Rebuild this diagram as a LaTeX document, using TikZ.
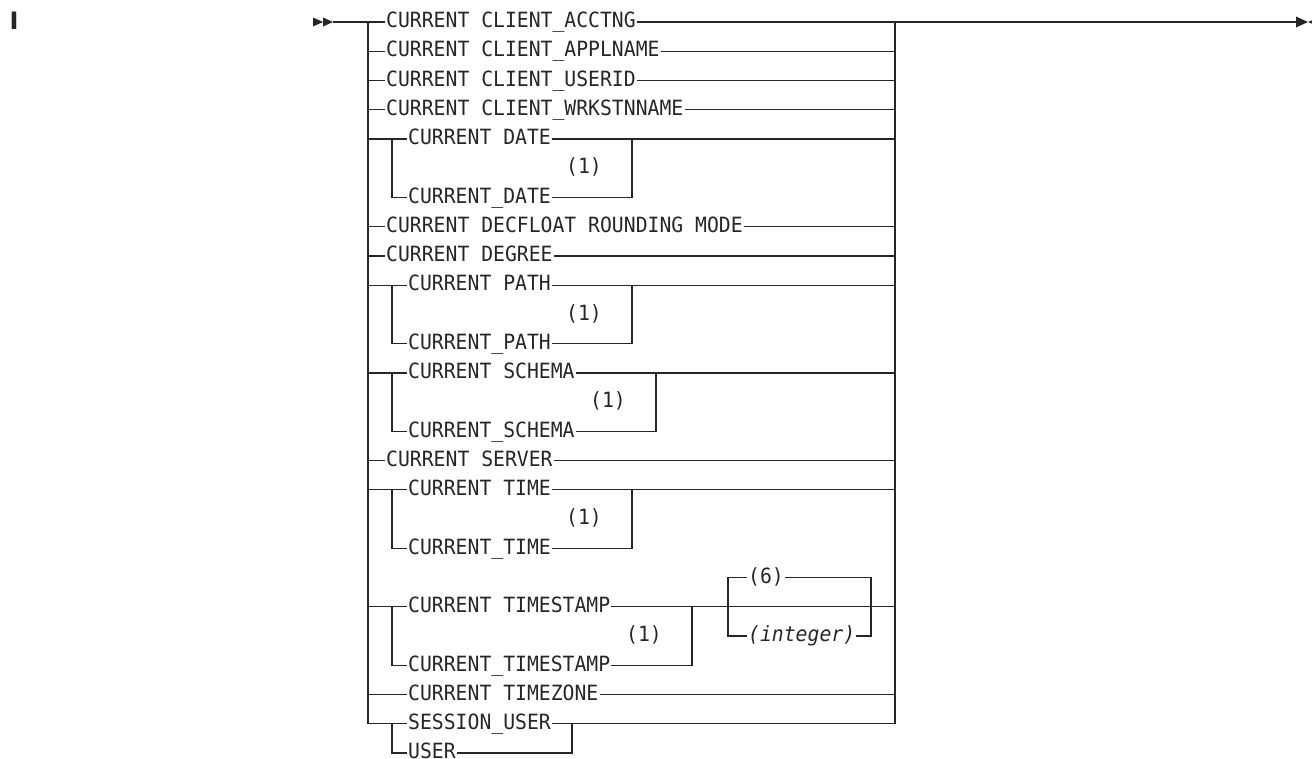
\documentclass[tikz,border=0pt]{standalone}
\usepackage{xcolor}
\definecolor{RailGray}{HTML}{262626}
\usepackage{fontspec}
\newfontfamily\diagfont[FakeStretch=0.94]{DejaVu Sans Mono}
\newfontfamily\markfont{DejaVu Sans}
\usepackage{tikz}
\usetikzlibrary{calc, positioning}

\tikzset{
  kw/.style={anchor=west, inner xsep=1pt, inner ysep=0pt, text height=13.5pt, text depth=2pt,
    font=\diagfont\fontsize{21}{22}\selectfont, text=RailGray},
  fn/.style={kw, anchor=center},
  rail/.style={draw=RailGray, line width=1.2pt},
}

\begin{document}
\begin{tikzpicture}[x=1pt,y=-1pt]
  \useasboundingbox (0,0) rectangle (1312,758);

  \node[font=\markfont\bfseries\fontsize{24}{24}\selectfont, anchor=base, inner sep=0pt, text=RailGray] (revmark) at (14,29.5) {I};

  \coordinate (start) at (333,22);
  \coordinate (finish) at (1296,22);
  \coordinate (lr) at (368,22);
  \coordinate (rr) at (895,22);
  \coordinate (sub) at (392,22);
  \coordinate (dateR) at (632,139);
  \coordinate (pathR) at (632,285.2);
  \coordinate (schemaR) at (656,372.9);
  \coordinate (timeR) at (632,489.8);
  \coordinate (tstampR) at (692,606.8);
  \coordinate (sixL) at (728,577.6);
  \coordinate (sixR) at (871,577.6);
  \coordinate (userR) at (572,723.8);

  \node[kw] (acctng) at (385,22) {CURRENT CLIENT\_ACCTNG};
  \node[kw] (applname) at (385,51.2) {CURRENT CLIENT\_APPLNAME};
  \node[kw] (userid) at (385,80.5) {CURRENT CLIENT\_USERID};
  \node[kw] (wrkstn) at (385,109.7) {CURRENT CLIENT\_WRKSTNNAME};
  \node[kw] (date) at (407,139) {CURRENT DATE};
  \node[fn] (fndate) at (584,168.2) {(1)};
  \node[kw] (udate) at (407,197.4) {CURRENT\_DATE};
  \node[kw] (decfloat) at (385,226.7) {CURRENT DECFLOAT ROUNDING MODE};
  \node[kw] (degree) at (385,255.9) {CURRENT DEGREE};
  \node[kw] (path) at (407,285.2) {CURRENT PATH};
  \node[fn] (fnpath) at (584,314.4) {(1)};
  \node[kw] (upath) at (407,343.6) {CURRENT\_PATH};
  \node[kw] (schema) at (407,372.9) {CURRENT SCHEMA};
  \node[fn] (fnschema) at (608,402.1) {(1)};
  \node[kw] (uschema) at (407,431.4) {CURRENT\_SCHEMA};
  \node[kw] (server) at (385,460.6) {CURRENT SERVER};
  \node[kw] (time) at (407,489.8) {CURRENT TIME};
  \node[fn] (fntime) at (584,519.1) {(1)};
  \node[kw] (utime) at (407,548.3) {CURRENT\_TIME};
  \node[kw] (six) at (747,577.6) {(6)};
  \node[kw] (tstamp) at (407,606.8) {CURRENT TIMESTAMP};
  \node[fn] (fntstamp) at (644,636) {(1)};
  \node[kw] (integer) at (747,636) {\itshape(integer)};
  \node[kw] (utstamp) at (407,665.3) {CURRENT\_TIMESTAMP};
  \node[kw] (timezone) at (407,694.5) {CURRENT TIMEZONE};
  \node[kw] (session) at (407,723.8) {SESSION\_USER};
  \node[kw] (user) at (407,753) {USER};

  \fill[RailGray] (313,17.5) -- (323,22) -- (313,26.5) -- cycle;
  \fill[RailGray] (323,17.5) -- (333,22) -- (323,26.5) -- cycle;
  \draw[rail] (start) -- (acctng.west);
  \draw[rail] (acctng.east) -- (finish);
  \draw[RailGray, line width=1.8pt] (898,22) -- (922,22);
  \fill[RailGray] (1296,16.5) -- (1308,22) -- (1296,27.5) -- cycle;
  \fill[RailGray] (1308,22) -- (1320,17) -- (1320,27) -- cycle;

  \draw[rail] (lr) -- (lr |- session) -- (session.west);
  \draw[rail] (rr) -- (rr |- session) -- (session.east);

  \draw[rail] (lr |- applname) -- (applname.west);
  \draw[rail] (applname.east) -- (rr |- applname);
  \draw[rail] (lr |- userid) -- (userid.west);
  \draw[rail] (userid.east) -- (rr |- userid);
  \draw[rail] (lr |- wrkstn) -- (wrkstn.west);
  \draw[rail] (wrkstn.east) -- (rr |- wrkstn);
  \draw[rail] (lr |- decfloat) -- (decfloat.west);
  \draw[rail] (decfloat.east) -- (rr |- decfloat);
  \draw[rail] (lr |- degree) -- (degree.west);
  \draw[rail] (degree.east) -- (rr |- degree);
  \draw[rail] (lr |- server) -- (server.west);
  \draw[rail] (server.east) -- (rr |- server);
  \draw[rail] (lr |- timezone) -- (timezone.west);
  \draw[rail] (timezone.east) -- (rr |- timezone);

  \draw[rail] (lr |- date) -- (date.west);
  \draw[rail] (date.east) -- (rr |- date);
  \draw[rail] (sub |- date) -- (sub |- udate) -- (udate.west);
  \draw[rail] (udate.east) -| (dateR);

  \draw[rail] (lr |- path) -- (path.west);
  \draw[rail] (path.east) -- (rr |- path);
  \draw[rail] (sub |- path) -- (sub |- upath) -- (upath.west);
  \draw[rail] (upath.east) -| (pathR);

  \draw[rail] (lr |- schema) -- (schema.west);
  \draw[rail] (schema.east) -- (rr |- schema);
  \draw[rail] (sub |- schema) -- (sub |- uschema) -- (uschema.west);
  \draw[rail] (uschema.east) -| (schemaR);

  \draw[rail] (lr |- time) -- (time.west);
  \draw[rail] (time.east) -- (rr |- time);
  \draw[rail] (sub |- time) -- (sub |- utime) -- (utime.west);
  \draw[rail] (utime.east) -| (timeR);

  \draw[rail] (lr |- tstamp) -- (tstamp.west);
  \draw[rail] (tstamp.east) -- (rr |- tstamp);
  \draw[rail] (sub |- tstamp) -- (sub |- utstamp) -- (utstamp.west);
  \draw[rail] (utstamp.east) -| (tstampR);
  \draw[rail] (six.west) -- (sixL) -- (sixL |- integer) -- (integer.west);
  \draw[rail] (six.east) -- (sixR) -- (sixR |- integer) -- (integer.east);

  \draw[rail] (sub |- session) -- (sub |- user) -- (user.west);
  \draw[rail] (user.east) -| (userR);
\end{tikzpicture}
\end{document}
